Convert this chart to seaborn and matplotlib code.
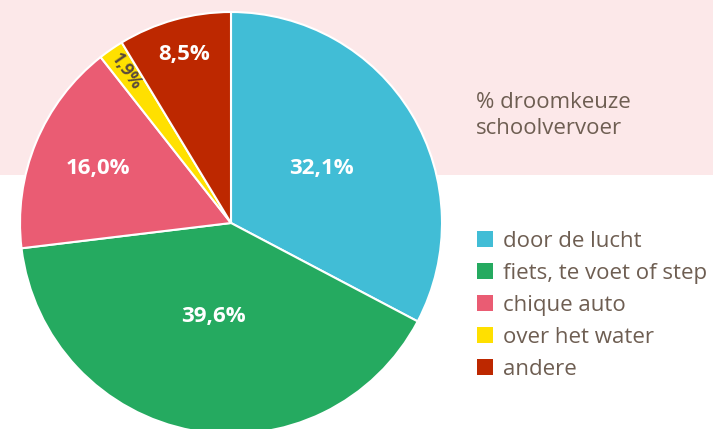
import numpy as np
import matplotlib
matplotlib.use("Agg")
import matplotlib.pyplot as plt
import seaborn as sns
from matplotlib.patches import Rectangle

categories = ["door de lucht", "fiets, te voet of step", "chique auto", "over het water", "andere"]
values = [32.1, 39.6, 16.0, 1.9, 8.5]
colors = ["#41BDD6", "#25AA60", "#EA5C73", "#FFE000", "#BD2800"]
title_lines = ["% droomkeuze", "schoolvervoer"]

sns.set_theme(style="white")
plt.rcParams['font.family'] = ['Open Sans', 'DejaVu Sans']
txt_color = "#6E5E52"

W, H = 713, 429
fig = plt.figure(figsize=(W / 100, H / 100), dpi=100)
ax = fig.add_axes([0, 0, 1, 1])
ax.set_xlim(0, W)
ax.set_ylim(0, H)
ax.axis("off")

# pink band at top
ax.add_patch(Rectangle((0, H - 175), W, 175, facecolor="#FCE8E9", edgecolor="none", zorder=0))

cx, cy, R = 231, H - 223, 211
wedges, _ = ax.pie(values, colors=sns.color_palette(colors), startangle=90, counterclock=False,
                   center=(cx, cy), radius=R, frame=True,
                   wedgeprops=dict(edgecolor="white", linewidth=1.5))
ax.set_xlim(0, W)
ax.set_ylim(0, H)
ax.set_aspect("equal", adjustable="box")
ax.axis("off")

# labels
rfrac = [0.50, 0.45, 0.68, 0.87, 0.83]
for w, v, rf in zip(wedges, values, rfrac):
    ang = np.deg2rad((w.theta1 + w.theta2) / 2)
    x = cx + rf * R * np.cos(ang)
    y = cy + rf * R * np.sin(ang)
    lab = f"{v:.1f}%".replace(".", ",")
    if v < 3:
        ax.text(x, y, lab, color="#5A4A3C", fontsize=12.5, fontweight="bold",
                rotation=np.rad2deg(ang) - 180, ha="center", va="center", rotation_mode="anchor")
    else:
        ax.text(x, y, lab, color="white", fontsize=16, fontweight="bold",
                ha="center", va="center")

ax.text(476, H - 102, title_lines[0], color=txt_color, fontsize=16, ha="left", va="center")
ax.text(476, H - 129, title_lines[1], color=txt_color, fontsize=16, ha="left", va="center")

leg = ax.legend(wedges, categories, loc="upper left", bbox_to_anchor=(477 / W, 1 - 231 / H),
                frameon=False, fontsize=16, handlelength=0.72, handleheight=0.72,
                handletextpad=0.45, labelspacing=0.49, borderaxespad=0, borderpad=0)
for t in leg.get_texts():
    t.set_color(txt_color)
for h in leg.legend_handles:
    h.set_edgecolor("none")

fig.savefig("out.png", dpi=100)
